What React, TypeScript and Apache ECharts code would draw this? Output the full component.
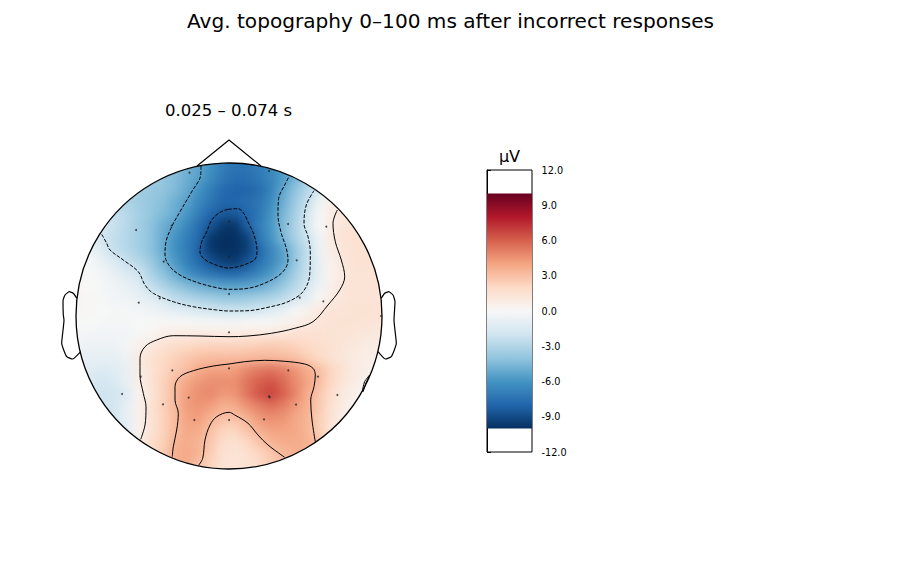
import React, { useEffect, useRef } from "react";
import * as echarts from "echarts";

const FONT = "DejaVu Sans";
const mainTitle = "Avg. topography 0–100 ms after incorrect responses";
const windowTitle = "0.025 – 0.074 s";
const unitLabel = "µV";
const colorStops = ["#053061", "#2166ac", "#4393c3", "#92c5de", "#d1e5f0", "#f7f7f7", "#fddbc7", "#f4a582", "#d6604d", "#b2182b", "#67001f"];
const colorLimit = 10;
const barLimit = 12;
const barStep = 3;

// Potential (µV), rows front to back, columns left to right
const fieldRows: number[][] = [
  [-2.3,-2.3,-2.3,-2.8,-2.8,-3.35,-3.35,-3.9,-4.2,-4.8,-5.3,-6.2,-7,-7.4,-7.4,-7,-6.5,-5.8,-4.65,-3.25,-1.85,-0.45,0.2,0.35,0.35,0.35],
  [-2.3,-2.3,-2.3,-2.8,-3,-3.35,-3.55,-3.9,-4.35,-4.9,-5.5,-6.4,-7.2,-7.6,-7.6,-7.2,-6.6,-5.7,-4.8,-3.25,-1.7,-0.15,0.4,0.55,0.55,0.55],
  [-2.15,-2.3,-2.5,-2.8,-3.15,-3.45,-3.8,-4,-4.45,-5.1,-6,-7,-7.8,-8.05,-8.05,-7.7,-6.8,-5.3,-4.1,-3,-1.7,-0.15,0.6,0.7,0.7,0.7],
  [-1.85,-2,-2.3,-2.7,-3.15,-3.55,-3.9,-4.2,-4.9,-5.5,-6.5,-7.3,-7.95,-7.95,-7.7,-7.3,-6.4,-5,-3.7,-2.4,-0.45,0.6,1.1,1.2,1.2,1.2],
  [-1.4,-1.5,-1.85,-2.4,-2.8,-3.35,-3.9,-4.45,-5,-5.9,-7,-7.95,-8.5,-8.5,-7.95,-7.3,-6,-4.65,-3.35,-2,-0.15,0.7,1.2,1.3,1.2,1.2],
  [-1.1,-1.4,-1.7,-2.3,-2.8,-3.45,-4.1,-4.9,-5.6,-6.5,-7.6,-8.6,-9.7,-9.8,-8.25,-7,-5.9,-4.45,-3.15,-1.7,0,0.8,1.2,1.4,1.3,1.3],
  [-0.6,-0.9,-2,-2.5,-2.9,-3.45,-4.1,-5,-6,-7,-7.8,-9.7,-10.9,-11,-9.4,-7.3,-6,-4.55,-3.25,-2.15,-0.45,0.8,1.4,1.5,1.5,1.5],
  [-0.3,-0.6,-1.4,-2.4,-2.9,-3.45,-4.1,-5.1,-6.1,-7,-8.15,-9.7,-11,-11.1,-9.5,-7.95,-6.6,-5.5,-3.9,-2.5,-0.6,0.7,1.3,1.5,1.5,1.5],
  [0,-0.15,-0.8,-1.5,-2.3,-2.8,-3.7,-4.65,-5.8,-6.8,-7.8,-8.7,-9.4,-9.6,-8.7,-7.6,-6.5,-5.5,-3.9,-2.4,-0.8,0.4,1.15,1.5,1.5,1.5],
  [0.1,0,-0.3,-0.8,-1.4,-2,-3.15,-4.1,-5,-6,-6.8,-7.3,-7.7,-7.8,-7.3,-6.6,-5.8,-4.65,-3.45,-2.3,-0.9,0.3,0.95,1.4,1.4,1.4],
  [0.1,0,-0.15,-0.45,-0.8,-1.2,-2.4,-3.15,-3.8,-4.35,-4.9,-5.2,-5.5,-5.5,-5.4,-5.1,-4.55,-3.8,-2.9,-1.85,-0.6,0.55,1.15,1.4,1.4,1.4],
  [0.15,0.1,-0.15,-0.3,-0.45,-0.8,-1.2,-1.85,-2.6,-3,-3.35,-3.55,-3.8,-3.8,-3.7,-3.45,-3.15,-2.7,-2,-1.1,0.1,0.8,1.2,1.4,1.4,1.4],
  [0.15,0.1,0,-0.15,-0.15,-0.3,-0.45,-0.8,-1.1,-1.4,-1.7,-2,-2.2,-2.2,-2.15,-1.85,-1.4,-0.8,0,0.4,1,1.3,1.4,1.45,1.45,1.4],
  [0,0,-0.15,-0.15,-0.15,0,0,0.1,0,0,-0.15,-0.15,-0.15,-0.15,0,0,0.1,0.3,0.55,0.9,1.2,1.4,1.45,1.45,1.4,1.3],
  [-0.15,-0.3,-0.3,-0.3,-0.3,-0.15,0.15,0.55,0.8,0.85,0.85,0.85,0.85,0.85,0.9,0.9,1,1.2,1.45,1.55,1.55,1.45,1.4,1.3,1.15,1.1],
  [-0.45,-0.6,-0.6,-0.6,-0.15,0.5,1.05,1.6,1.8,2,2.2,2.25,2.25,2.25,2.35,2.5,2.6,2.5,2.25,2,1.8,1.55,1.3,1.05,0.85,0.8],
  [-0.8,-0.9,-0.9,-0.9,-0.6,0.9,1.55,1.95,2.35,2.75,3,3.1,3.15,3.2,3.2,3.25,3.25,3.2,3,2.5,2,1.6,1.15,0.85,0.65,0.55],
  [-1.1,-1.2,-1.4,-1.2,-0.8,0.7,1.45,2.1,2.65,3.05,3.75,4.05,4.05,4.2,4.8,5.25,5.4,5.1,4.5,3.75,3.05,2.2,1.45,0.9,0.55,0.5],
  [-1.5,-1.7,-1.85,-1.5,-0.8,0.65,1.45,2.25,3.15,3.9,4.35,4.65,4.65,4.65,5.4,6,6.3,5.7,4.8,4.05,3.2,2.1,1.3,0.8,0.4,0.35],
  [-1.9,-2,-2,-1.9,-1.4,0.2,1.25,2.25,3.2,4.2,4.65,4.8,4.35,4.5,5.4,6.3,6.8,6,4.95,3.75,2.75,1.8,1,0.5,0.15,0],
  [-1.95,-1.95,-2,-1.9,-0.8,0.5,1.4,2.35,3.2,4.2,4.5,4.2,3.6,3.75,4.5,5.1,5.55,5.1,4.35,3.6,2.65,1.6,0.8,0.3,-0.15,-0.45],
  [-1.95,-1.95,-1.95,-1.8,-0.9,0.4,1.4,2.25,3.15,4.05,4.2,3.45,3,3,3.45,4.35,4.65,4.5,3.9,3.45,2.5,1.45,0.7,0.2,-0.3,-0.6],
  [-1.9,-1.9,-1.9,-1.7,-1.1,0.3,1.45,2.25,3.15,3.9,3.75,3,2.25,2.2,2.9,3.6,4.05,4.05,3.9,3.45,2.45,1.3,0.55,0.1,-0.45,-0.6],
  [-1.85,-1.85,-1.85,-1.5,-0.9,0.9,1.7,2.35,3.45,3.75,3.45,2.75,1.8,1.6,2.1,2.85,3.45,3.75,3.75,3.6,2.9,1.45,0.65,0.15,-0.3,-0.45],
  [-1.5,-1.5,-1.5,-1.5,-0.8,0.7,1.6,2.6,3.6,3.9,3.45,2.45,1.55,1.4,1.6,2.1,2.75,3.2,3.6,3.6,2.9,1.45,0.65,0.15,-0.3,-0.45],
  [-1.5,-1.5,-1.5,-1.5,-0.8,0.7,1.6,2.6,3.6,3.75,2.9,2.2,1.45,1.3,1.45,1.9,2.45,3.1,3.45,3.45,2.9,1.45,0.65,0.15,-0.3,-0.45],
];

// Contours and outline, in head-centred units (x to the right, y to the nose)
const contourDeep: number[][] = [[-1,106.7],[9,107.3],[14.7,102.7],[19.7,92.7],[25,81],[28,66],[26.3,57],[19,52.7],[9,49.3],[-1,48],[-5.7,48.7],[-17.3,52.7],[-25.7,57.7],[-29,64.3],[-27.3,74.3],[-22.3,84.3],[-17.3,96],[-9,103.7],[-1,106.7]];
const contourMid: number[][] = [[-28,150],[-28.3,141],[-37.3,124.3],[-49,104.3],[-57.3,89.3],[-63,74.3],[-64,61],[-59,49.3],[-49,41],[-32.3,33.7],[-12.3,28.3],[0,26.7],[19,27.7],[39,34.3],[54,44.3],[59,56],[57.3,67.7],[52.3,82.7],[49,101],[49.7,117.7],[55.7,131],[60,139.3]];
const contourShallow: number[][] = [[-127.3,81.7],[-122.3,72.7],[-119,66],[-105.7,56],[-90.7,44.3],[-84,31],[-75.7,22.7],[-55.7,14.3],[-35.7,9.3],[-12.3,6],[0,5],[19,5.3],[39,8.7],[59,14.3],[74,24.3],[80.7,41],[81.3,64.3],[79,79.3],[75,92.7],[77.3,111],[85,125.3]];
const contourLow: number[][] = [[108.3,106],[104,92.7],[106.3,74.3],[112.3,56],[115.7,39.3],[110.7,26],[99,11],[84,-5.7],[65.7,-12.3],[42.3,-17.3],[19,-20],[0,-20.7],[-29,-20],[-55.7,-19.7],[-72.3,-24],[-84,-30.7],[-89,-42.3],[-89,-59],[-85.7,-77.3],[-83,-90.7],[-84,-109],[-88.3,-123.3]];
const contourLowEdge: number[][] = [[133.3,-75.7],[135.7,-65.7],[140.7,-59],[137,-67],[134,-76]];
const contourHigh: number[][] = [[-56.7,-140.7],[-55.7,-130.7],[-52.3,-114],[-50.7,-97.3],[-54,-84],[-54,-70.7],[-49,-60.7],[-35.7,-54.7],[-15.7,-50],[0,-48],[15.7,-45.7],[35.7,-44.3],[55.7,-45.3],[75.7,-48],[84,-52.3],[86.3,-59],[85,-70.7],[81.7,-84],[83,-104],[86.3,-125.7]];
const contourHighBack: number[][] = [[-30.7,-149.7],[-26.3,-142.3],[-24,-124],[-19,-109],[-12.3,-100.7],[0,-96.3],[5.7,-99],[19,-107.3],[29,-119],[39,-129],[55.7,-141.3]];
const nose: number[][] = [[-32,150],[0,176],[32,150]];
const leftEar: number[][] = [[-152.3,17.7],[-155.7,22.7],[-159.7,24.3],[-164,21],[-166,15.3],[-165.7,1],[-165,-4],[-167.3,-27.3],[-162.3,-40.7],[-156.3,-43],[-148.3,-35.7]];
const rightEar: number[][] = [[152.3,17.7],[155.7,22.7],[159.7,24.3],[164,21],[166,14.3],[165,-4],[167.3,-27.3],[162.3,-40.7],[156.3,-43],[149,-35.7]];
const sensors: number[][] = [[-39.5,143.3],[-93,86],[-57.3,90.3],[-65.3,54.3],[-90.3,13.3],[-69.3,17.7],[0,94.3],[0,59.3],[0,22],[40,145],[59,92],[97.3,89.3],[67.7,55.7],[70.7,18.3],[94.3,14.7],[0,-16.3],[-56.7,-54.3],[0,-52.3],[-88.3,-60.7],[-107,-78],[-66,-88.3],[-40.3,-81.7],[-34.7,-104],[0,-104],[59.3,-54.3],[89,-60.7],[108.3,-79],[40.7,-81.3],[40,-80.3],[67,-88.7],[35,-103.3],[152,0]];
const headRadius = 153;

const padEdges = (rows: number[][]) => {
  const wide = rows.map((r) => [r[0], r[0], ...r, r[r.length - 1], r[r.length - 1]]);
  return [wide[0], wide[0], ...wide, wide[wide.length - 1], wide[wide.length - 1]];
};

export default function App() {
  const fieldRef = useRef<HTMLDivElement>(null);
  const topRef = useRef<HTMLDivElement>(null);

  useEffect(() => {
    const field = echarts.init(fieldRef.current!, undefined, { renderer: "svg" });
    const top = echarts.init(topRef.current!, undefined, { renderer: "svg" });

    const padded = padEdges(fieldRows);
    const heat: number[][] = [];
    padded.forEach((row, j) => row.forEach((v, i) => heat.push([i, j, v])));
    field.setOption({
      animation: false,
      grid: { left: 49, top: 136, width: 360, height: 360 },
      xAxis: { type: "category", show: false, data: padded[0].map((_, i) => String(i)) },
      yAxis: { type: "category", show: false, inverse: true, data: padded.map((_, j) => String(j)) },
      visualMap: { show: false, min: -colorLimit, max: colorLimit, dimension: 2, inRange: { color: colorStops } },
      series: [{ type: "heatmap", data: heat, silent: true, itemStyle: { borderWidth: 0 } }],
    });

    const gradient = new echarts.graphic.LinearGradient(
      0, 1, 0, 0,
      colorStops.map((color, i) => ({ offset: i / (colorStops.length - 1), color }))
    );
    const contour = (data: number[][], dashed: boolean) => ({
      type: "line", data, xAxisIndex: 0, yAxisIndex: 0, showSymbol: false, symbol: "none", smooth: 0.35, silent: true, clip: false, z: 3,
      lineStyle: { color: "#000", width: 1, type: dashed ? [3.7, 1.6] : "solid" },
    });
    const outline = (data: number[][], smooth: number) => ({
      type: "line", data, xAxisIndex: 0, yAxisIndex: 0, showSymbol: false, symbol: "none", smooth, silent: true, clip: false, z: 4,
      lineStyle: { color: "#000", width: 1.2 },
    });
    const heading = (text: string, left: number, topPx: number, fontSize: number) => ({
      text, left, top: topPx, padding: 0, textAlign: "center",
      textStyle: { fontFamily: FONT, fontSize, fontWeight: "normal", color: "#000" },
    });

    top.setOption({
      animation: false,
      backgroundColor: "transparent",
      textStyle: { fontFamily: FONT },
      title: [
        heading(mainTitle, 450.5, 11, 20.1),
        heading(windowTitle, 228.5, 102, 16.5),
        heading(unitLabel, 509.5, 148, 16.1),
      ],
      grid: [
        { left: 49, top: 136, width: 360, height: 360 },
        { left: 487, top: 170, width: 45, height: 282, show: true, borderColor: "#000", borderWidth: 1, backgroundColor: "transparent" },
      ],
      xAxis: [
        { type: "value", gridIndex: 0, min: -180, max: 180, show: false },
        { type: "value", gridIndex: 1, min: 0, max: 1, show: false },
      ],
      yAxis: [
        { type: "value", gridIndex: 0, min: -180, max: 180, show: false },
        {
          type: "value", gridIndex: 1, position: "right", min: -barLimit, max: barLimit, interval: barStep,
          axisLine: { show: true, lineStyle: { color: "#000", width: 1 } },
          axisTick: { show: true, length: 4, lineStyle: { color: "#000", width: 1 } },
          splitLine: { show: false },
          axisLabel: { margin: 9.5, fontFamily: FONT, fontSize: 9.7, color: "#000", formatter: (v: number) => v.toFixed(1) },
        },
      ],
      series: [
        contour(contourDeep, true),
        contour(contourMid, true),
        contour(contourShallow, true),
        contour(contourLow, false),
        contour(contourLowEdge, false),
        contour(contourHigh, false),
        contour(contourHighBack, false),
        outline(nose, 0),
        outline(leftEar, 0.15),
        outline(rightEar, 0.15),
        {
          type: "custom", xAxisIndex: 0, yAxisIndex: 0, data: [[0, 0, headRadius]], silent: true, clip: false, z: 4,
          renderItem: (_: any, api: any) => {
            const c = api.coord([api.value(0), api.value(1)]);
            const r = api.size([api.value(2), 0])[0];
            return { type: "circle", shape: { cx: c[0], cy: c[1], r }, style: { fill: "none", stroke: "#000", lineWidth: 1.3 } };
          },
        },
        {
          type: "scatter", xAxisIndex: 0, yAxisIndex: 0, data: sensors, symbol: "circle", symbolSize: 2, silent: true, clip: false, z: 5,
          itemStyle: { color: "#222" },
        },
        {
          type: "custom", xAxisIndex: 1, yAxisIndex: 1, data: [[0, -colorLimit, 1, colorLimit]], silent: true, z: 1,
          renderItem: (_: any, api: any) => {
            const a = api.coord([api.value(0), api.value(3)]);
            const b = api.coord([api.value(2), api.value(1)]);
            return { type: "rect", shape: { x: a[0], y: a[1], width: b[0] - a[0], height: b[1] - a[1] }, style: { fill: gradient } };
          },
        },
      ],
    });

    return () => {
      field.dispose();
      top.dispose();
    };
  }, []);

  const layer: React.CSSProperties = { position: "absolute", left: 0, top: 0, width: 900, height: 565 };
  return (
    <div style={{ position: "fixed", left: 0, top: 0, width: 900, height: 565, background: "#fff", overflow: "hidden" }}>
      <div style={{ ...layer, filter: "blur(5px)", clipPath: "circle(153px at 229px 316px)" }} ref={fieldRef} />
      <div style={layer} ref={topRef} />
    </div>
  );
}
